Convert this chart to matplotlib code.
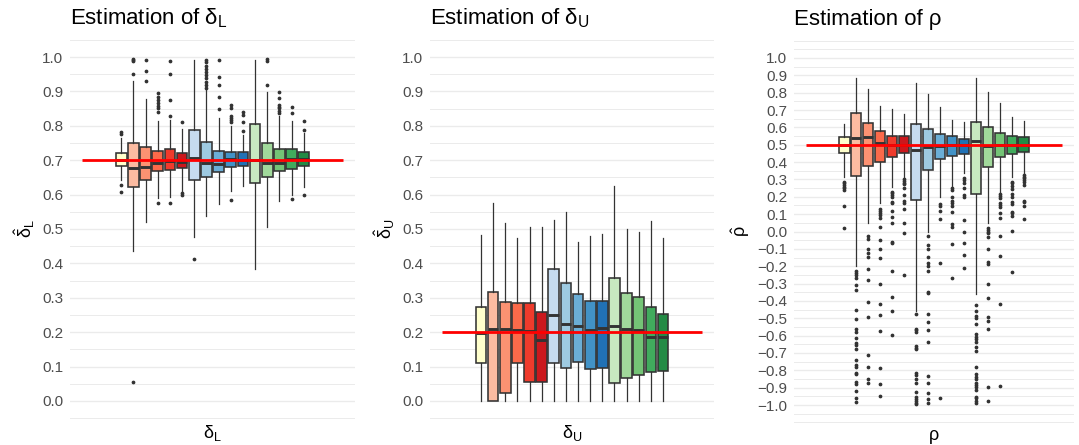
import numpy as np
import matplotlib
matplotlib.use('Agg')
import matplotlib.pyplot as plt
from matplotlib.ticker import FuncFormatter

plt.rcParams['font.family'] = ['Liberation Sans', 'DejaVu Sans']
plt.rcParams['mathtext.fontset'] = 'custom'
plt.rcParams['mathtext.rm'] = 'Liberation Sans'
plt.rcParams['mathtext.it'] = 'Liberation Sans:italic'
plt.rcParams['mathtext.bf'] = 'Liberation Sans:bold'

colors = ['#FFFFCC',
          '#FCBBA1', '#FC9272', '#FB6A4A', '#EF3B2C', '#CB181D',
          '#C6DBEF', '#9ECAE1', '#6BAED6', '#4292C6', '#2171B5',
          '#C7E9C0', '#A1D99B', '#74C476', '#41AB5D', '#238B45']

# ---- delta_L ----
dl_true = 0.7
dl_q1 = [0.684, 0.623, 0.642, 0.669, 0.672, 0.676, 0.642, 0.652, 0.667, 0.679, 0.684, 0.635, 0.650, 0.670, 0.674, 0.683]
dl_med = [0.701, 0.678, 0.681, 0.693, 0.698, 0.696, 0.707, 0.692, 0.690, 0.703, 0.700, 0.702, 0.693, 0.692, 0.703, 0.703]
dl_q3 = [0.720, 0.751, 0.737, 0.728, 0.732, 0.720, 0.788, 0.752, 0.728, 0.725, 0.725, 0.805, 0.751, 0.733, 0.733, 0.723]
dl_lo = [0.642, 0.436, 0.521, 0.591, 0.594, 0.609, 0.476, 0.538, 0.573, 0.610, 0.625, 0.383, 0.507, 0.582, 0.599, 0.623]
dl_hi = [0.764, 0.930, 0.877, 0.815, 0.817, 0.790, 0.991, 0.905, 0.822, 0.800, 0.773, 0.991, 0.897, 0.829, 0.814, 0.778]
dl_out = [
    [0.783, 0.775, 0.628, 0.607],
    [0.994, 0.991, 0.988, 0.950, 0.055],
    [0.991, 0.959, 0.931],
    [0.894, 0.885, 0.875, 0.865, 0.858, 0.851, 0.841, 0.577],
    [0.989, 0.950, 0.875, 0.829, 0.575],
    [0.812, 0.605, 0.598],
    [0.413],
    [0.991, 0.986, 0.975, 0.965, 0.957, 0.948, 0.938, 0.928, 0.919, 0.911],
    [0.991, 0.943, 0.919, 0.885, 0.849],
    [0.862, 0.851, 0.829, 0.824, 0.817, 0.810, 0.584],
    [0.841, 0.831, 0.810, 0.786],
    [],
    [0.993, 0.989, 0.920],
    [0.897, 0.880, 0.860, 0.855, 0.851, 0.844, 0.836],
    [0.855, 0.837, 0.586],
    [0.814, 0.789, 0.599],
]

# ---- delta_U ----
du_true = 0.2
du_q1 = [0.110, 0.000, 0.022, 0.111, 0.054, 0.054, 0.110, 0.097, 0.113, 0.093, 0.096, 0.052, 0.067, 0.075, 0.083, 0.088]
du_med = [0.197, 0.210, 0.209, 0.206, 0.204, 0.177, 0.251, 0.224, 0.217, 0.205, 0.212, 0.219, 0.208, 0.207, 0.186, 0.186]
du_q3 = [0.273, 0.318, 0.288, 0.284, 0.286, 0.260, 0.383, 0.344, 0.310, 0.290, 0.290, 0.358, 0.315, 0.303, 0.273, 0.252]
du_lo = [0.0] * 16
du_hi = [0.483, 0.577, 0.517, 0.473, 0.505, 0.505, 0.526, 0.550, 0.461, 0.480, 0.485, 0.625, 0.500, 0.492, 0.523, 0.473]
du_out = [[] for _ in range(16)]

# ---- rho ----
rho_true = 0.5
rho_q1 = [0.451, 0.322, 0.378, 0.399, 0.431, 0.454, 0.182, 0.354, 0.416, 0.435, 0.447, 0.216, 0.370, 0.427, 0.449, 0.458]
rho_med = [0.500, 0.537, 0.547, 0.510, 0.500, 0.500, 0.470, 0.487, 0.490, 0.500, 0.497, 0.520, 0.495, 0.500, 0.500, 0.500]
rho_q3 = [0.543, 0.681, 0.624, 0.577, 0.552, 0.552, 0.618, 0.589, 0.562, 0.552, 0.535, 0.631, 0.601, 0.566, 0.552, 0.543]
rho_lo = [0.316, -0.199, 0.051, 0.162, 0.258, 0.307, -0.456, 0.0, 0.201, 0.262, 0.335, -0.362, 0.051, 0.229, 0.316, 0.339]
rho_hi = [0.618, 0.883, 0.820, 0.725, 0.704, 0.677, 0.854, 0.791, 0.716, 0.641, 0.629, 0.883, 0.806, 0.739, 0.658, 0.639]
rho_out = [
    [0.287, 0.278, 0.268, 0.258, 0.249, 0.239, 0.147, 0.020],
    [-0.226, -0.237, -0.251, -0.266, -0.308, -0.339, -0.454, -0.506, -0.560, -0.577, -0.612, -0.644,
     -0.654, -0.679, -0.739, -0.769, -0.779, -0.814, -0.823, -0.869, -0.877, -0.918, -0.958, -0.984],
    [-0.026, -0.045, -0.103, -0.122, -0.149, -0.218, -0.280, -0.408, -0.495, -0.712, -0.783, -0.850, -0.871],
    [0.128, 0.120, 0.108, 0.095, 0.076, 0.024, -0.049, -0.099, -0.155, -0.305, -0.416, -0.479, -0.573,
     -0.789, -0.877, -0.948],
    [0.229, 0.220, 0.210, 0.201, 0.172, 0.162, 0.120, 0.082, 0.047, -0.059, -0.064, -0.226, -0.378, -0.456, -0.598],
    [0.301, 0.291, 0.281, 0.272, 0.249, 0.210, 0.176, 0.166, 0.130, 0.051, -0.009, -0.253],
    [-0.476, -0.560, -0.568, -0.577, -0.660, -0.669, -0.679, -0.817, -0.827, -0.852, -0.875, -0.927,
     -0.952, -0.967, -0.977, -0.987, -0.996],
    [-0.024, -0.076, -0.099, -0.149, -0.180, -0.199, -0.229, -0.349, -0.356, -0.476, -0.520, -0.568,
     -0.635, -0.831, -0.875, -0.929, -0.967, -0.987],
    [0.159, 0.149, 0.120, 0.070, -0.183, -0.958],
    [0.249, 0.239, 0.201, 0.176, 0.162, 0.149, 0.111, 0.041, 0.028, -0.074, -0.266],
    [0.307, 0.297, 0.278, 0.249, 0.210, 0.197, 0.066, -0.001, -0.066, -0.134, -0.212],
    [-0.424, -0.456, -0.487, -0.500, -0.533, -0.591, -0.606, -0.621, -0.635, -0.664, -0.687, -0.779,
     -0.821, -0.837, -0.850, -0.871, -0.885, -0.898, -0.914, -0.952, -0.961, -0.975, -0.987],
    [0.018, 0.009, -0.001, -0.010, -0.030, -0.103, -0.174, -0.189, -0.303, -0.385, -0.491, -0.518,
     -0.564, -0.894, -0.975],
    [0.216, 0.205, 0.193, 0.166, 0.153, 0.139, 0.105, 0.080, -0.026, -0.141, -0.418, -0.891],
    [0.287, 0.278, 0.264, 0.243, 0.216, 0.197, 0.168, 0.159, 0.114, 0.105, 0.091, 0.003, -0.233],
    [0.326, 0.316, 0.307, 0.297, 0.287, 0.268, 0.178, 0.168, 0.149, 0.070],
]


def fmt(v, pos):
    s = f"{v:.1f}"
    if s == "-0.0":
        s = "0.0"
    return s.replace('-', '\u2212')


def panel(ax, q1, med, q3, lo, hi, out, truth, major, minor, ylim, title, xlab, ylab, labx):
    stats = []
    for i in range(len(q1)):
        stats.append(dict(q1=q1[i], med=med[i], q3=q3[i], whislo=lo[i], whishi=hi[i], fliers=out[i]))
    pos = np.arange(1, len(q1) + 1)
    bp = ax.bxp(stats, positions=pos, widths=0.88, patch_artist=True, showcaps=False,
                boxprops=dict(edgecolor='#333333', linewidth=1.15),
                medianprops=dict(color='#333333', linewidth=2.1),
                whiskerprops=dict(color='#333333', linewidth=0.9),
                flierprops=dict(marker='o', markersize=1.7, markerfacecolor='#333333',
                                markeredgecolor='#333333', linestyle='none'))
    for patch, c in zip(bp['boxes'], colors):
        patch.set_facecolor(c)
    c0 = pos.mean()
    ax.hlines(truth, c0 - 10.7, c0 + 10.7, color='#FF0000', linewidth=2.0, zorder=5)
    ax.set_xlim(c0 - 11.7, c0 + 11.7)
    ax.set_ylim(*ylim)
    ax.set_yticks(major)
    ax.set_yticks(minor, minor=True)
    ax.yaxis.set_major_formatter(FuncFormatter(fmt))
    ax.set_xticks([])
    ax.tick_params(axis='y', which='both', length=0, pad=5, labelsize=11, labelcolor='#4D4D4D')
    ax.grid(axis='y', which='major', color='#EBEBEB', linewidth=1.0)
    ax.grid(axis='y', which='minor', color='#EBEBEB', linewidth=0.7)
    ax.set_axisbelow(True)
    for s in ax.spines.values():
        s.set_visible(False)
    ax.set_title(title, loc='left', fontsize=16, pad=11)
    ax.set_xlabel(xlab, fontsize=13, labelpad=3)
    ax.set_ylabel(ylab, fontsize=13)
    ax.yaxis.set_label_coords(labx, 0.5)


W, H = 1079, 445
fig = plt.figure(figsize=(W / 100, H / 100), dpi=100)

ax1 = fig.add_axes([70 / W, (H - 418.5) / H, 285 / W, 379 / H])
ax2 = fig.add_axes([430 / W, (H - 418.5) / H, 284 / W, 379 / H])
ax3 = fig.add_axes([794 / W, (H - 422.7) / H, 280 / W, 382.4 / H])

m01 = np.round(np.arange(0, 1.01, 0.1), 2)
n01 = np.round(np.arange(-0.05, 1.06, 0.1), 2)
m11 = np.round(np.arange(-1, 1.01, 0.1), 2)
n11 = np.concatenate([[-1.1], np.round(np.arange(-1.05, 1.06, 0.1), 2), [1.1]])

panel(ax1, dl_q1, dl_med, dl_q3, dl_lo, dl_hi, dl_out, dl_true, m01, n01, (-0.051, 1.051),
      r'Estimation of $\mathrm{δ}_{\mathrm{L}}$', r'$\mathrm{δ}_{\mathrm{L}}$',
      r'$\hat{\mathrm{δ}}_{\mathrm{L}}$', -0.115)
panel(ax2, du_q1, du_med, du_q3, du_lo, du_hi, du_out, du_true, m01, n01, (-0.051, 1.051),
      r'Estimation of $\mathrm{δ}_{\mathrm{U}}$', r'$\mathrm{δ}_{\mathrm{U}}$',
      r'$\hat{\mathrm{δ}}_{\mathrm{U}}$', -0.115)
panel(ax3, rho_q1, rho_med, rho_q3, rho_lo, rho_hi, rho_out, rho_true, m11, n11, (-1.102, 1.102),
      'Estimation of ρ', 'ρ', r'$\hat{\mathrm{ρ}}$', -0.15)

fig.savefig('out.png', dpi=100)
